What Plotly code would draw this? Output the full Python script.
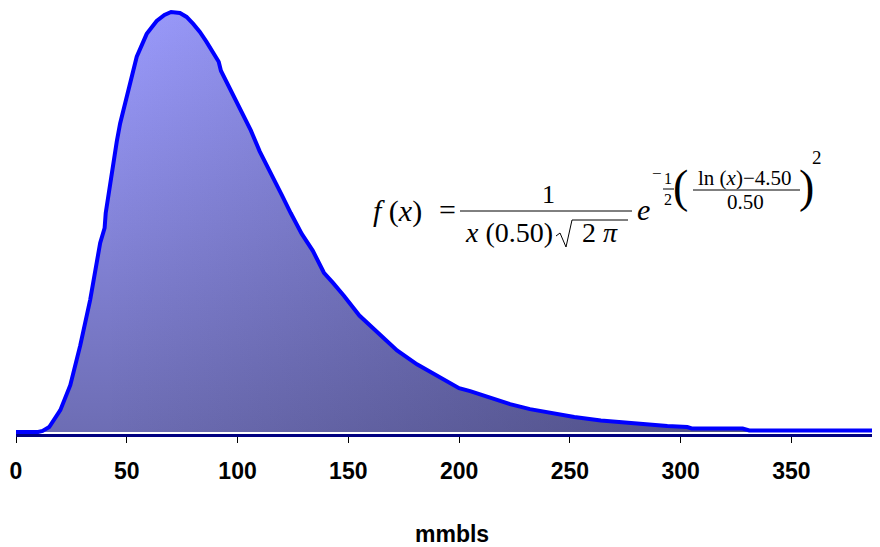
import plotly.graph_objects as go

# ---- data ----
x_mmbls = [0, 10, 12, 15, 20, 24.5, 29, 33.5, 38, 40, 40.5, 42.5, 45.5, 47, 50, 52, 54.5,
           59, 63.5, 67, 70, 74, 77, 80, 83, 86, 89, 91.5, 92.5, 95, 98, 101, 106, 110,
           114, 118, 120, 124, 129, 134, 139, 143, 148, 155, 163, 172, 181, 190, 196,
           200, 205, 214, 223, 232, 241, 252, 264, 279, 294, 303, 305, 328, 331, 390]
density = [0.0, 0.0, 0.000024, 0.000118, 0.000521, 0.001114, 0.002062, 0.003152,
           0.004502, 0.004858, 0.005213, 0.005924, 0.006919, 0.007346, 0.008009,
           0.008412, 0.008934, 0.009479, 0.009787, 0.009929, 0.010000, 0.009976,
           0.009882, 0.009716, 0.009526, 0.009289, 0.009005, 0.008815, 0.008602,
           0.008341, 0.008009, 0.007678, 0.007180, 0.006682, 0.006280, 0.005877,
           0.005640, 0.005213, 0.004716, 0.004313, 0.003791, 0.003555, 0.003246,
           0.002773, 0.002393, 0.001943, 0.001611, 0.001351, 0.001185, 0.001043,
           0.000972, 0.000806, 0.000664, 0.000545, 0.000450, 0.000355, 0.000273,
           0.000201, 0.000142, 0.000118, 0.000083, 0.000083, 0.000036, 0.000036]
tick_vals = [0, 50, 100, 150, 200, 250, 300, 350]
tick_text = ["0", "50", "100", "150", "200", "250", "300", "350"]
x_title = "mmbls"

# the page body has an 8px margin, so the figure is 8px smaller and offset
OFF = 8
W, H = 880 - OFF, 547 - OFF
L, R, T, B = 16 - OFF, 0, 0, 113
PW, PH = W - L - R, H - T - B


def px(x):  # page pixel -> paper
    return (x - OFF - L) / PW


def py(y):  # page pixel -> paper
    return (T + PH - (y - OFF)) / PH


fig = go.Figure()
# base fill, vertical gradient
fig.add_trace(go.Scatter(
    x=x_mmbls, y=density, mode="none", fill="tozeroy",
    fillgradient=dict(type="vertical", start=0, stop=0.0100,
                      colorscale=[[0, "#6D6DB4"], [1, "#9C9CFF"]]),
    hoverinfo="skip", showlegend=False))
# darkening overlay toward the right
fig.add_trace(go.Scatter(
    x=x_mmbls, y=density, mode="none", fill="tozeroy",
    fillgradient=dict(type="horizontal", start=40, stop=300,
                      colorscale=[[0, "rgba(30,30,60,0)"], [1, "rgba(30,30,60,0.35)"]]),
    hoverinfo="skip", showlegend=False))
# outline
fig.add_trace(go.Scatter(
    x=x_mmbls, y=density, mode="lines",
    line=dict(color="#0000FF", width=4),
    showlegend=False))

serif = "Liberation Serif, Times New Roman, serif"
ann = []


def txt(t, x, y, size, xanchor="center"):
    ann.append(dict(text=t, x=px(x), y=py(y), xref="paper", yref="paper",
                    xanchor=xanchor, yanchor="middle", showarrow=False,
                    font=dict(family=serif, size=size, color="black")))


txt("<i>f</i>&nbsp;(<i>x</i>)", 371, 211, 30, "left")
txt("=", 447, 209, 30)
txt("1", 548, 194, 26)
txt("<i>x</i> (0.50)", 509, 232, 28)
txt("2 <i>π</i>", 600, 233, 28)
txt("<i>e</i>", 643, 210, 30)
txt("−", 657, 174, 17)
txt("1", 668, 178, 16)
txt("2", 668, 200, 16)
txt("(", 680, 187, 46)
txt("ln (<i>x</i>)−4.50", 745, 178, 21)
txt("0.50", 745, 202, 21)
txt(")", 806, 187, 46)
txt("2", 817, 157, 19)

ann.append(dict(text=x_title, x=px(452), y=py(534), xref="paper", yref="paper",
                xanchor="center", yanchor="middle", showarrow=False,
                font=dict(family="Liberation Sans, Arial, sans-serif", size=23,
                          color="black", weight="bold")))

shapes = [
    dict(type="line", xref="paper", yref="paper", x0=px(460), x1=px(632),
         y0=py(211), y1=py(211), line=dict(color="black", width=1)),
    dict(type="line", xref="paper", yref="paper", x0=px(663), x1=px(674),
         y0=py(189), y1=py(189), line=dict(color="black", width=1)),
    dict(type="line", xref="paper", yref="paper", x0=px(693), x1=px(800),
         y0=py(190), y1=py(190), line=dict(color="black", width=1)),
    dict(type="path", xref="paper", yref="paper",
         path=(f"M {px(556)},{py(236)} L {px(560)},{py(233)} L {px(566)},{py(247)} "
               f"L {px(572)},{py(220)} L {px(628)},{py(220)}"),
         line=dict(color="black", width=1)),
]

fig.update_layout(
    width=W, height=H,
    margin=dict(l=L, r=R, t=T, b=B, autoexpand=False),
    paper_bgcolor="white", plot_bgcolor="white",
    annotations=ann, shapes=shapes,
    xaxis=dict(range=[0, 390], tickvals=tick_vals, ticktext=tick_text,
               ticks="outside", ticklen=6, tickcolor="black", tickwidth=1,
               showline=True, linecolor="#000080", linewidth=3,
               showgrid=False, zeroline=False, ticklabelstandoff=8,
               automargin=False,
               tickfont=dict(family="Liberation Sans, Arial, sans-serif", size=23,
                             color="black", weight="bold")),
    yaxis=dict(range=[-0.0000476, 0.010095], visible=False, showgrid=False,
               zeroline=False, automargin=False),
)

fig.write_html("out.html")
